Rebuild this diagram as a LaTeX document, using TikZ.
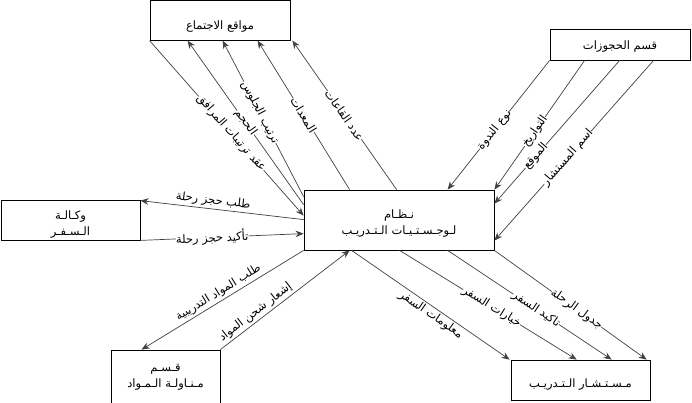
\documentclass[tikz,border=0pt]{standalone}
\usepackage{fontspec}
\usepackage{tikz}
\usetikzlibrary{arrows.meta,calc}
\newfontfamily\arabicfont[Script=Arabic]{DejaVu Sans}
\TeXXeTstate=1
\newcommand{\arline}[1]{\beginR #1\endR}
\tikzset{
  unitbox/.style={draw, line width=0.8pt, align=center, inner sep=0pt, font=\arabicfont\fontsize{11.5}{16}\selectfont},
  flow/.style={-{Stealth[length=8pt,width=6.5pt]}, draw=black!75, line width=0.7pt},
  flowlabel/.style={sloped, fill=white, inner sep=0pt, font=\arabicfont\fontsize{11.5}{12}\selectfont},
  sidelabel/.style={sloped, inner sep=2pt, font=\arabicfont\fontsize{11.5}{12}\selectfont}
}

\begin{document}
\begin{tikzpicture}[x=1pt, y=-1pt]
  \useasboundingbox (0,0) rectangle (692,402);
  \node[unitbox, minimum width=140pt, minimum height=39.5pt, text height=19pt, text depth=2pt] (meet) at (220,20.5) {\arline{مواقع الاجتماع}};
  \node[unitbox, minimum width=140pt, minimum height=31pt, text height=12pt, text depth=2pt] (booking) at (620,44.5) {\arline{قسم الحجوزات}};
  \node[unitbox, minimum width=139pt, minimum height=40pt, text height=33pt, text depth=2pt] (agency) at (70.5,220) {\arline{وكـالـة}\\\arline{الـسـفـر}};
  \node[unitbox, minimum width=190pt, minimum height=60pt, text height=30pt, text depth=2pt] (hub) at (399,220) {\arline{نـظـام}\\\arline{لـوجـسـتـيـات الـتـدريـب}};
  \node[unitbox, minimum width=109pt, minimum height=54pt] (materials) at (165.5,377) {\arline{قـسـم}\\\arline{مـنـاولـة الـمـواد}};
  \node[unitbox, minimum width=139pt, minimum height=40pt, text height=17pt, text depth=2pt] (advisor) at (580.5,380) {\arline{مـسـتـشـار الـتـدريـب}};

  \draw[flow] (meet.south west) -- node[flowlabel, pos=0.53] {\arline{عقد ترتيبات المرافق}} ([yshift=-26pt]hub.north west);
  \draw[flow] ([yshift=-15pt]hub.north west) -- node[flowlabel, pos=0.5] {\arline{الحجم}} ([xshift=38pt]meet.south west);
  \draw[flow] ([yshift=-7pt]hub.north west) -- node[flowlabel, pos=0.54] {\arline{ترتيب الجلوس}} ([xshift=73pt]meet.south west);
  \draw[flow] ([xshift=46pt]hub.north west) -- node[flowlabel, pos=0.5] {\arline{المعدات}} ([xshift=108pt]meet.south west);
  \draw[flow] ([xshift=93pt]hub.north west) -- node[flowlabel, pos=0.5] {\arline{عدد القاعات}} ([xshift=2pt]meet.south east);

  \draw[flow] ([yshift=-30pt]hub.north west) -- node[sidelabel, above, pos=0.56] {\arline{طلب حجز رحلة}} ([yshift=-1pt]agency.north east);
  \draw[flow] (agency.south east) -- node[flowlabel, pos=0.44] {\arline{تأكيد حجز رحلة}} ([yshift=-44pt]hub.north west);

  \draw[flow] (booking.south west) -- node[flowlabel, pos=0.54] {\arline{نوع الندوة}} ([xshift=144pt]hub.north west);
  \draw[flow] ([xshift=35pt]booking.south west) -- node[flowlabel, pos=0.55] {\arline{التواريخ}} (hub.north east);
  \draw[flow] ([xshift=70pt]booking.south west) -- node[flowlabel, pos=0.67] {\arline{الموقع}} ([yshift=-14pt]hub.north east);
  \draw[flow] ([xshift=104pt]booking.south west) -- node[flowlabel, pos=0.54] {\arline{اسم المستشار}} ([yshift=-51pt]hub.north east);

  \draw[flow] ([xshift=48pt]hub.south west) -- node[sidelabel, below, pos=0.53] {\arline{معلومات السفر}} ([xshift=-1pt]advisor.north west);
  \draw[flow] ([xshift=96pt]hub.south west) -- node[flowlabel, pos=0.52] {\arline{خيارات السفر}} ([xshift=66pt]advisor.north west);
  \draw[flow] ([xshift=144pt]hub.south west) -- node[flowlabel, pos=0.54] {\arline{تاكيد السفر}} ([xshift=101pt]advisor.north west);
  \draw[flow] (hub.south east) -- node[flowlabel, pos=0.54] {\arline{جدول الرحلة}} ([xshift=136pt]advisor.north west);

  \draw[flow] (hub.south west) -- node[sidelabel, above, pos=0.5] {\arline{طلب المواد التدريبية}} ([xshift=31pt]materials.north west);
  \draw[flow] (materials.north east) -- node[sidelabel, above, pos=0.31] {\arline{إشعار شحن المواد}} ([xshift=46pt]hub.south west);
\end{tikzpicture}
\end{document}
